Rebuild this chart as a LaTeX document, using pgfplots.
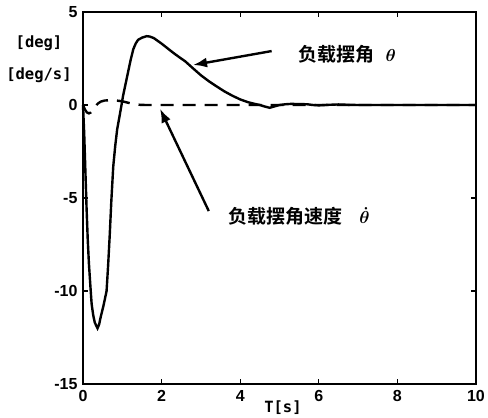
\documentclass[border=0pt]{standalone}
\usepackage{fontspec}
\setmainfont{Liberation Sans}[BoldFont={Liberation Sans Bold}]
\newfontfamily\cjk{Noto Sans CJK SC Bold}
\newfontfamily\monob{DejaVu Sans Mono Bold}
\usepackage{pgfplots}
\pgfplotsset{compat=1.18}
\usetikzlibrary{arrows.meta}
\begin{document}
\begin{tikzpicture}
\useasboundingbox (-83pt,-34pt) rectangle (405pt,384pt);
\begin{axis}[
  at={(0,0)}, anchor=south west,
  scale only axis, width=393pt, height=372pt,
  xmin=0, xmax=10, ymin=-15, ymax=5,
  xtick={0,2,...,10}, ytick={-15,-10,-5,0,5},
  tick align=inside, major tick length=5pt,
  axis line style={line width=2.4pt},
  every tick/.style={line width=1.2pt, black},
  /pgf/number format/assume math mode=true,
  xticklabel={\bfseries\fontsize{16}{18}\selectfont\pgfmathprintnumber{\tick}},
  yticklabel={\bfseries\fontsize{16}{18}\selectfont\pgfmathprintnumber{\tick}},
  yticklabel style={xshift=-2pt},
  xticklabel style={yshift=-3pt},
  clip=false,
]
\addplot[black, line width=2.4pt] coordinates {
(0,0) (0.03,-1.5) (0.06,-3.5) (0.09,-5.5) (0.12,-7.2) (0.15,-8.5) (0.19,-9.8) (0.22,-10.7) (0.26,-11.3) (0.3,-11.7) (0.37,-12)
(0.41,-11.8) (0.45,-11.4) (0.52,-10.8) (0.6,-10) (0.64,-8.6) (0.68,-7) (0.72,-5.2) (0.77,-3.3) (0.82,-2.2) (0.87,-1.3) (0.93,-0.6) (0.98,0)
(1.02,0.5) (1.07,1.0) (1.11,1.4) (1.15,1.8) (1.21,2.4) (1.28,3.0) (1.34,3.3) (1.4,3.5) (1.5,3.62) (1.62,3.7) (1.7,3.68) (1.8,3.6) (1.9,3.45) (2.0,3.3)
(2.15,3.05) (2.3,2.8) (2.45,2.57) (2.6,2.35) (2.8,1.97) (3.0,1.6) (3.2,1.28) (3.4,1.0) (3.6,0.73) (3.8,0.5) (4.0,0.3) (4.2,0.15) (4.35,0.07) (4.5,0.0)
(4.62,-0.08) (4.75,-0.15) (4.88,-0.07) (5.0,0.0) (5.15,0.04) (5.3,0.06) (5.5,0.05) (5.7,0.04) (5.85,0.0) (6.0,-0.02) (6.25,0.01) (6.5,0.03) (6.75,0.01) (7.0,0) (10,0)
};
\addplot[black, line width=2.4pt, dash pattern=on 13pt off 9pt] coordinates {
(0,0) (0.05,-0.25) (0.1,-0.4) (0.15,-0.45) (0.2,-0.4) (0.25,-0.25) (0.3,-0.1) (0.38,0.08) (0.45,0.18) (0.55,0.24) (0.7,0.26) (0.85,0.24) (1.0,0.2)
(1.15,0.12) (1.3,0.05) (1.45,0.01) (1.6,0) (10,0)
};
\draw[line width=2.4pt, -{Latex[length=14pt,width=10pt]}] (axis cs:4.8,2.9) -- (axis cs:2.8,2.15);
\draw[line width=2.4pt, -{Latex[length=14pt,width=10pt]}] (axis cs:3.2,-5.7) -- (axis cs:1.96,-0.2);
\node[anchor=west, inner sep=0pt] at (axis cs:5.47,2.7) {\cjk\fontsize{19}{21}\selectfont 负载摆角\hspace{0.6em}{\fontsize{17}{19}\selectfont\boldmath$\theta$}};
\node[anchor=west, inner sep=0pt] at (axis cs:3.69,-6.0) {\cjk\fontsize{19}{21}\selectfont 负载摆角速度\hspace{0.9em}{\fontsize{17}{19}\selectfont\boldmath$\dot{\theta}$}};
\end{axis}
\node at (-44pt,341pt) {\monob\fontsize{15.5}{17}\selectfont [deg]};
\node at (-44pt,309pt) {\monob\fontsize{15.5}{17}\selectfont [deg/s]};
\node at (200pt,-24pt) {\monob\fontsize{15.5}{17}\selectfont T[s]};
\end{tikzpicture}
\end{document}
